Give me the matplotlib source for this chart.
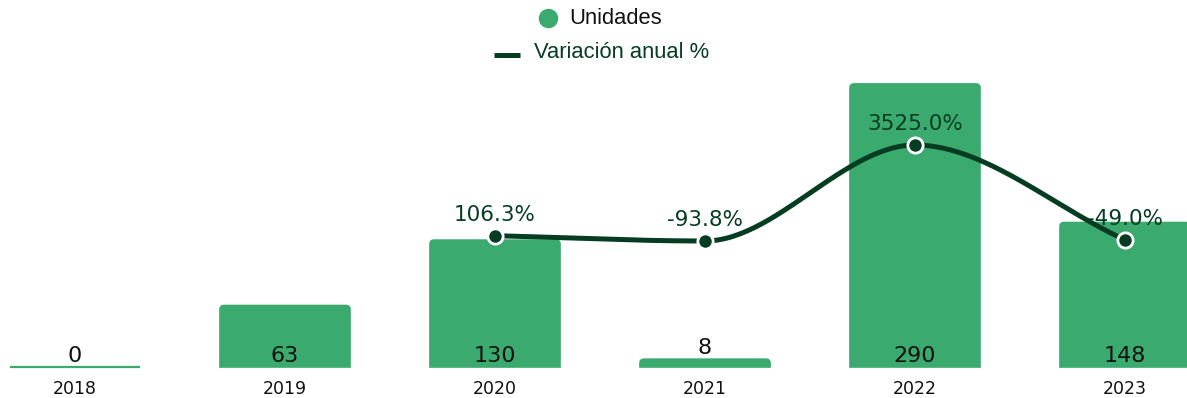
import matplotlib
matplotlib.use("Agg")
import matplotlib.pyplot as plt
from matplotlib.path import Path
from matplotlib.patches import PathPatch
from matplotlib.lines import Line2D
import numpy as np

years = ["2018", "2019", "2020", "2021", "2022", "2023"]
units = [0, 63, 130, 8, 290, 148]
variation_years = ["2020", "2021", "2022", "2023"]
variation = [106.3, -93.8, 3525.0, -49.0]

BAR_GREEN = "#3aaa6e"
DARK_GREEN = "#063d22"
TEXT = "#111111"

W, H = 1187, 398
fig = plt.figure(figsize=(W / 100, H / 100), dpi=100)

# axes geometry in pixels
ax_bottom = 28
px_per_unit = 0.976
ax = fig.add_axes([0, ax_bottom / H, 1, (H - ax_bottom) / H])
ax.set_xlim(-75 / 210, (W - 75) / 210)
ax.set_ylim(-3 / px_per_unit, (H - ax_bottom - 3) / px_per_unit)

bar_w = 130 / 210
radius_x = 4 / 210
radius_y = 4 / px_per_unit


def rounded_bar(x, h):
    """Bar path with rounded top corners."""
    x0, x1 = x - bar_w / 2, x + bar_w / 2
    ry = min(radius_y, h / 2)
    rx = radius_x if h > 0 else 0
    verts = [(x0, 0), (x1, 0), (x1, h - ry), (x1, h), (x1 - rx, h),
             (x0 + rx, h), (x0, h), (x0, h - ry), (x0, 0)]
    codes = [Path.MOVETO, Path.LINETO, Path.LINETO, Path.CURVE3, Path.CURVE3,
             Path.LINETO, Path.CURVE3, Path.CURVE3, Path.CLOSEPOLY]
    return Path(verts, codes)


xs = np.arange(len(years))
for x, v in zip(xs, units):
    ax.add_patch(PathPatch(rounded_bar(x, v), facecolor=BAR_GREEN,
                           edgecolor=BAR_GREEN, lw=1.2 if v > 0 else 1.6, zorder=2))
    label_y = v if v < 20 else 0
    ax.annotate(str(v), (x, label_y), xytext=(0, 3.8), textcoords="offset points",
                ha="center", va="baseline", fontsize=16, color=TEXT, zorder=3)

ax.set_xticks(xs, years)
ax.tick_params(axis="x", length=0, pad=7, labelsize=12.5, labelcolor=TEXT)
ax.set_yticks([])
for s in ax.spines.values():
    s.set_visible(False)

# secondary axis for the annual variation line
ax2 = ax.twinx()
ax2.set_ylim(-4956, 8990)
ax2.set_yticks([])
for s in ax2.spines.values():
    s.set_visible(False)

vx = np.array([years.index(y) for y in variation_years], dtype=float)
vy = np.array(variation)

# monotone cubic (Fritsch-Carlson) for the smoothed curve
h = np.diff(vx)
d = np.diff(vy) / h
m = np.zeros_like(vy)
m[0], m[-1] = d[0], d[-1]
for k in range(1, len(vy) - 1):
    if d[k - 1] * d[k] > 0:
        w1 = 2 * h[k] + h[k - 1]
        w2 = h[k] + 2 * h[k - 1]
        m[k] = (w1 + w2) / (w1 / d[k - 1] + w2 / d[k])
cx, cy = [], []
for k in range(len(h)):
    t = np.linspace(0, 1, 60)
    h00 = 2 * t**3 - 3 * t**2 + 1
    h10 = t**3 - 2 * t**2 + t
    h01 = -2 * t**3 + 3 * t**2
    h11 = t**3 - t**2
    cx.extend(vx[k] + t * h[k])
    cy.extend(h00 * vy[k] + h10 * h[k] * m[k] + h01 * vy[k + 1] + h11 * h[k] * m[k + 1])

ax2.plot(cx, cy, color=DARK_GREEN, lw=3.6, solid_capstyle="round", zorder=4)
ax2.plot(vx, vy, "o", ms=11, mfc=DARK_GREEN, mec="white", mew=2, zorder=5)
for x, v in zip(vx, vy):
    ax2.annotate(f"{v:.1f}%", (x, v), xytext=(0, 10.5), textcoords="offset points",
                 ha="center", va="baseline", fontsize=15.5, color=DARK_GREEN, zorder=3)


def fpx(x, y):
    return x / W, 1 - y / H


# legend
legend_font = ["Liberation Sans", "DejaVu Sans"]
fig.add_artist(Line2D([fpx(548, 18)[0]], [fpx(548, 18)[1]], marker="o", ms=13,
                      color=BAR_GREEN, transform=fig.transFigure))
fig.text(*fpx(569, 18), "Unidades", ha="left", va="center", fontsize=15.8,
         color=TEXT, family=legend_font)
fig.add_artist(Line2D([fpx(494, 55)[0], fpx(520, 55)[0]], [fpx(494, 55)[1]] * 2,
                      lw=3.6, color=DARK_GREEN, solid_capstyle="butt",
                      transform=fig.transFigure))
fig.text(*fpx(534, 53), "Variación anual %", ha="left", va="center", fontsize=15.8,
         color=DARK_GREEN, family=legend_font)

fig.savefig("out.png", dpi=100)
